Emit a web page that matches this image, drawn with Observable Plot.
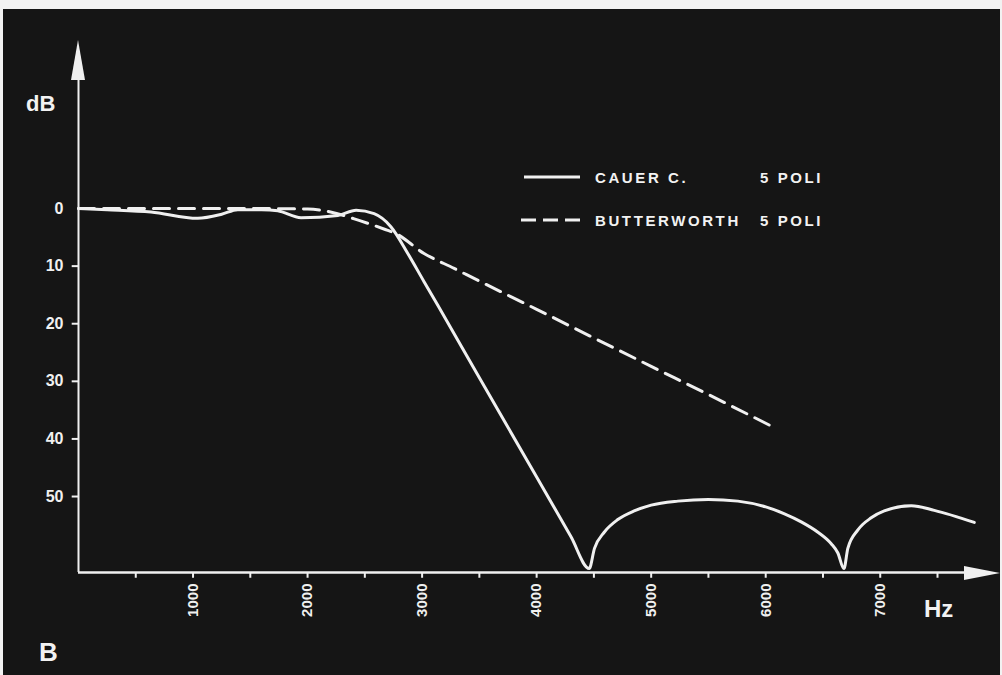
<!DOCTYPE html>
<html><head><meta charset="utf-8">
<script src="https://cdn.jsdelivr.net/npm/d3@7"></script>
<script src="https://cdn.jsdelivr.net/npm/@observablehq/plot@0.6"></script>
<style>
html,body{margin:0;padding:0;background:#f2f2f2;width:1002px;height:675px;overflow:hidden;}
#wrap{position:absolute;left:3px;top:9px;width:997px;height:666px;background:#151515;overflow:hidden;}
#wrap svg.plot{position:absolute;left:0;top:0;}
.lbl{position:absolute;color:#f2f2f2;font-family:"Liberation Sans",Arial,sans-serif;font-weight:bold;white-space:nowrap;line-height:1;}
.leg{letter-spacing:2.6px;transform:translateY(-50%);}
</style>
</head><body>
<div id="wrap"></div>
<script>
// ---- data ----
const cauerHz = [0, 250, 633, 1041, 1250, 1390, 1600, 1740, 1943, 2264, 2424, 2581, 2729, 2875, 3017, 3137, 3500, 4000, 4300, 4459, 4505, 4590, 4709, 4852, 5000, 5233, 5500, 5757, 6000, 6164, 6310, 6456, 6572, 6630, 6683, 6717, 6805, 6921, 7035, 7271, 7472, 7821];
const cauerDb = [0, 0.2, 0.6, 1.7, 1.0, 0.2, 0.2, 0.4, 1.6, 1.2, 0.3, 0.9, 3.2, 7.8, 12.7, 16.8, 29.4, 46.6, 57, 62.5, 59.0, 56.2, 54.0, 52.5, 51.5, 50.8, 50.5, 50.8, 51.8, 53.0, 54.4, 56.2, 58.2, 59.8, 62.5, 59.0, 55.8, 53.7, 52.5, 51.6, 52.4, 54.5];
const butterHz = [0, 633, 1000, 1500, 2000, 2200, 2408, 2560, 2700, 2755, 3017, 3280, 3500, 4000, 4563, 5000, 5500, 6092];
const butterDb = [0, 0, 0, 0, 0.1, 0.6, 1.8, 2.8, 3.8, 4.2, 7.8, 10.4, 12.6, 17.5, 23.1, 27.4, 32.3, 38.2];
const yTickLabels = [0, 10, 20, 30, 40, 50];
const yTickMarks = [10, 20, 30, 40, 50];
const xTickLabels = [1000, 2000, 3000, 4000, 5000, 6000, 7000];
const xTickMarks = [500, 1000, 1500, 2000, 2500, 3000, 3500, 4000, 4500, 5000, 5500, 6000, 6500, 7000, 7500];
const seriesNames = ["CAUER C.", "BUTTERWORTH"];
const seriesPoles = ["5 POLI", "5 POLI"];
const yTitle = "dB", xTitle = "Hz", panelLetter = "B";

const xMin = 0, xMax = 8050;      // frequency domain (arrow tip at xMax)
const yTop = -29.17, yBase = 63.19; // dB domain (arrow tip at yTop, x axis at yBase)

const cauer = cauerHz.map((f, i) => ({f, db: cauerDb[i]}));
const butter = butterHz.map((f, i) => ({f, db: butterDb[i]}));

const INK = "#f0f0f0";
const FONT = "'Liberation Sans', Arial, sans-serif";

const plot = Plot.plot({
  width: 997, height: 666,
  marginLeft: 75, marginRight: 0, marginTop: 31, marginBottom: 103,
  style: {background: "transparent", color: INK, fontFamily: FONT},
  x: {domain: [xMin, xMax], axis: null},
  y: {domain: [yTop, yBase], reverse: true, axis: null},
  marks: [
    // axes lines (arrowheads added after)
    Plot.ruleX([xMin], {y1: yTop + 6, y2: yBase, stroke: INK, strokeWidth: 2}),
    Plot.ruleY([yBase], {x1: xMin, x2: xMax - 250, stroke: INK, strokeWidth: 2.5}),
    // tick marks
    Plot.ruleX(xTickMarks, {y1: yBase, y2: yBase + 1.0, stroke: INK, strokeWidth: 2}),
    Plot.ruleY(yTickMarks, {x1: xMin - 55, x2: xMin, stroke: INK, strokeWidth: 2}),
    // tick labels
    Plot.text(yTickLabels, {x: xMin, y: d => d, text: d => String(d), textAnchor: "end", dx: -15,
      fill: INK, fontSize: 16, fontWeight: "bold"}),
    Plot.text(xTickLabels, {x: d => d, y: yBase, text: d => String(d), rotate: -90, textAnchor: "end", dy: 11,
      fill: INK, fontSize: 15, fontWeight: "bold", letterSpacing: "3px"}),
    // curves
    Plot.line(butter, {x: "f", y: "db", stroke: INK, strokeWidth: 3, strokeDasharray: "16,9", curve: "monotone-x"}),
    Plot.line(cauer, {x: "f", y: "db", stroke: INK, strokeWidth: 3, curve: "monotone-x"})
  ]
});
plot.classList.add("plot");
document.getElementById("wrap").appendChild(plot);

// arrowheads positioned through the plot's scales
const sx = plot.scale("x"), sy = plot.scale("y");
const svg = d3.select(plot);
const ax = sx.apply(xMin), ayTip = sy.apply(yTop);
svg.append("path")
  .attr("d", `M${ax},${ayTip} L${ax - 7},${ayTip + 40} L${ax + 7},${ayTip + 40} Z`)
  .attr("fill", INK);
const bxTip = sx.apply(xMax), by = sy.apply(yBase);
svg.append("path")
  .attr("d", `M${bxTip},${by + 1} L${bxTip - 36},${by - 6} L${bxTip - 36},${by + 8} Z`)
  .attr("fill", INK);

// text labels
const wrap = document.getElementById("wrap");
function addLabel(txt, left, top, size, extra) {
  const d = document.createElement("div");
  d.className = "lbl" + (extra ? " " + extra : "");
  d.textContent = txt;
  d.style.left = left + "px"; d.style.top = top + "px";
  if (size) d.style.fontSize = size + "px";
  wrap.appendChild(d);
  return d;
}
addLabel(yTitle, 23, 84, 22);
addLabel(xTitle, 921, 588, 24);
addLabel(panelLetter, 36, 630, 26);

// legend
const legY = [168, 211];
const legSvg = d3.select(wrap).append("svg")
  .attr("width", 80).attr("height", 80)
  .style("position", "absolute").style("left", "515px").style("top", "150px");
legSvg.append("line").attr("x1", 6).attr("x2", 62).attr("y1", legY[0] - 150).attr("y2", legY[0] - 150)
  .attr("stroke", INK).attr("stroke-width", 3);
legSvg.append("line").attr("x1", 3).attr("x2", 62).attr("y1", legY[1] - 150).attr("y2", legY[1] - 150)
  .attr("stroke", INK).attr("stroke-width", 3).attr("stroke-dasharray", "15,7");
seriesNames.forEach((n, i) => {
  addLabel(n, 592, legY[i], 15, "leg");
  addLabel(seriesPoles[i], 757, legY[i], 15, "leg");
});
</script>
</body></html>
